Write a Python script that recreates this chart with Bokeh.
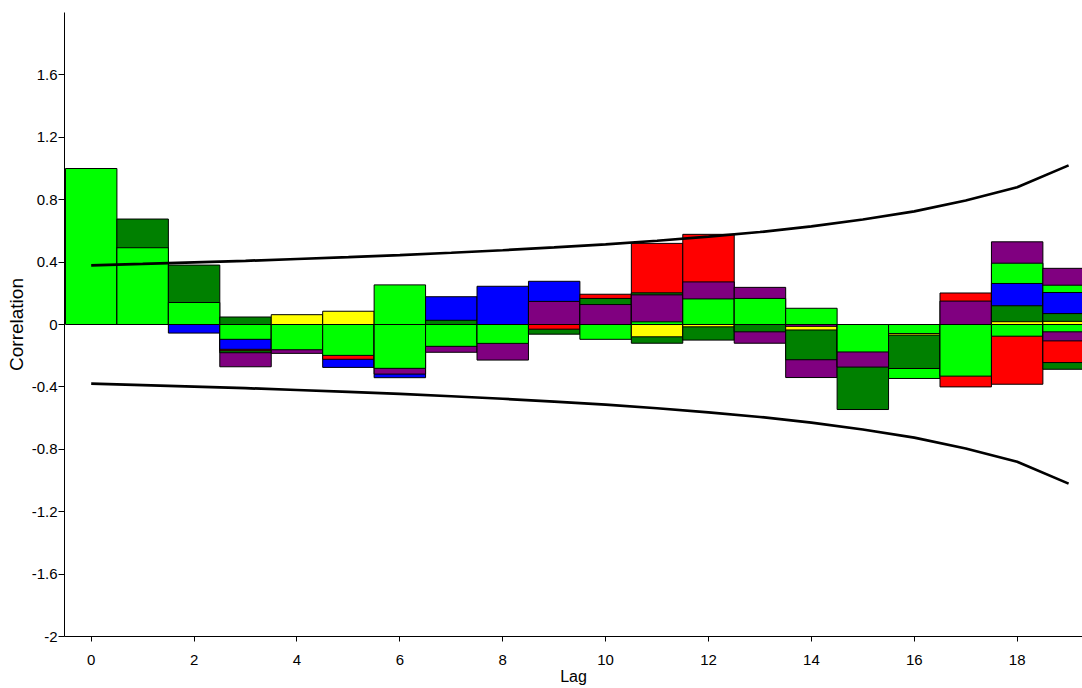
from bokeh.plotting import figure
from bokeh.models import ColumnDataSource, FixedTicker, Range1d
from bokeh.embed import file_html
from bokeh.resources import INLINE

lags = list(range(20))

# correlation values per series (0 = no bar at that lag)
lime_a   = [1.0, 0.492, 0.141, -0.095, -0.162, -0.198, 0.254, -0.14, -0.121, 0.0, -0.095, 0.017, 0.164, 0.167, 0.104, -0.176, -0.058, -0.331, 0.393, 0.252]
lime_b   = [0.0, 0.0, 0.0, 0.0, 0.0, 0.0, -0.281, 0.0, 0.0, 0.0, 0.0, 0.0, 0.0, 0.0, 0.0, 0.0, -0.346, 0.0, -0.075, -0.047]
green_a  = [0.0, 0.676, 0.381, 0.048, 0.0, 0.0, 0.0, 0.027, 0.0, -0.062, 0.167, 0.203, -0.10, -0.047, -0.226, -0.545, -0.282, 0.0, 0.12, 0.07]
green_b  = [0.0, 0.0, 0.0, -0.181, 0.0, 0.0, 0.0, 0.0, 0.0, 0.0, 0.0, -0.12, 0.0, 0.0, 0.0, 0.0, 0.0, 0.0, 0.0, -0.287]
blue_a   = [0.0, 0.0, -0.055, -0.159, 0.0, -0.275, -0.341, 0.178, 0.245, 0.277, 0.0, 0.0, 0.0, 0.0, 0.0, 0.0, 0.0, 0.0, 0.263, 0.205]
yellow_a = [0.0, 0.0, 0.0, 0.0, 0.063, 0.085, 0.0, 0.0, 0.0, 0.0, 0.0, -0.079, -0.015, 0.0, -0.035, 0.0, -0.068, 0.0, 0.018, 0.02]
red_a    = [0.0, 0.0, 0.0, -0.168, 0.0, -0.223, 0.0, 0.0, 0.0, -0.03, 0.194, 0.52, 0.578, 0.0, 0.0, 0.0, 0.0, 0.202, -0.383, -0.244]
red_b    = [0.0, 0.0, 0.0, 0.0, 0.0, 0.0, 0.0, 0.0, 0.0, 0.0, 0.0, 0.0, 0.0, 0.0, 0.0, 0.0, 0.0, -0.40, 0.0, 0.0]
purple_a = [0.0, 0.0, 0.0, -0.271, -0.185, 0.0, -0.318, -0.178, -0.228, 0.148, 0.128, 0.19, 0.273, 0.238, -0.012, -0.273, 0.0, 0.15, 0.53, 0.36]
purple_b = [0.0, 0.0, 0.0, 0.0, 0.0, 0.0, 0.0, 0.0, 0.0, 0.0, 0.0, 0.0, 0.0, -0.12, -0.34, 0.0, 0.0, 0.0, 0.0, -0.105]

# 95% confidence limit
conf_limit = [0.379, 0.388, 0.398, 0.408, 0.420, 0.432, 0.445, 0.460, 0.476, 0.494,
              0.514, 0.537, 0.563, 0.593, 0.629, 0.673, 0.725, 0.795, 0.88, 1.02]

y_ticks = [-2, -1.6, -1.2, -0.8, -0.4, 0, 0.4, 0.8, 1.2, 1.6]
y_tick_labels = ["-2", "-1.6", "-1.2", "-0.8", "-0.4", "0", "0.4", "0.8", "1.2", "1.6"]
x_ticks = [0, 2, 4, 6, 8, 10, 12, 14, 16, 18]

series = [
    (lime_a, "#00FF00"), (lime_b, "#00FF00"),
    (green_a, "#008000"), (green_b, "#008000"),
    (blue_a, "#0000FF"), (yellow_a, "#FFFF00"),
    (red_a, "#FF0000"), (red_b, "#FF0000"),
    (purple_a, "#800080"), (purple_b, "#800080"),
]

left, right, top, bottom, colors = [], [], [], [], []
for i, lag in enumerate(lags):
    items = [(vals[i], col) for vals, col in series if vals[i] != 0]
    items.sort(key=lambda t: -abs(t[0]))  # largest drawn first, smaller on top
    for v, col in items:
        left.append(lag - 0.5)
        right.append(lag + 0.5)
        top.append(max(v, 0))
        bottom.append(min(v, 0))
        colors.append(col)

src = ColumnDataSource(dict(left=left, right=right, top=top, bottom=bottom, color=colors))

p = figure(width=1082, height=688, x_range=Range1d(-0.519, 19.27), y_range=Range1d(-2, 2),
           output_backend="svg", toolbar_location=None,
           min_border_left=64, min_border_top=12, min_border_right=0, min_border_bottom=52)
p.outline_line_color = None
p.grid.visible = False

p.quad(left="left", right="right", top="top", bottom="bottom", source=src,
       fill_color="color", line_color="black", line_width=1)

p.line(lags, conf_limit, line_color="black", line_width=2.7)
p.line(lags, [-c for c in conf_limit], line_color="black", line_width=2.7)

for ax in (p.xaxis[0], p.yaxis[0]):
    ax.axis_line_color = "black"
    ax.axis_line_width = 1
    ax.major_tick_line_color = "black"
    ax.major_tick_in = 0
    ax.major_tick_out = 6
    ax.minor_tick_line_color = None
    ax.major_label_text_font = "Liberation Sans"
    ax.major_label_text_font_size = "15px"
    ax.major_label_text_color = "black"
    ax.axis_label_text_font = "Liberation Sans"
    ax.axis_label_text_font_style = "normal"
    ax.axis_label_text_color = "black"

p.xaxis.axis_label = "Lag"
p.xaxis.axis_label_text_font_size = "16px"
p.xaxis.ticker = FixedTicker(ticks=x_ticks)
p.xaxis.major_tick_out = 5
p.xaxis.major_label_standoff = 13
p.xaxis.axis_label_standoff = 0

p.yaxis.axis_label = "Correlation"
p.yaxis.axis_label_text_font_size = "19px"
p.yaxis.ticker = FixedTicker(ticks=y_ticks)
p.yaxis.major_label_overrides = {t: l for t, l in zip(y_ticks, y_tick_labels)}
p.yaxis.major_label_standoff = 1
p.yaxis.axis_label_standoff = 2

open("out.html", "w").write(file_html(p, INLINE))
